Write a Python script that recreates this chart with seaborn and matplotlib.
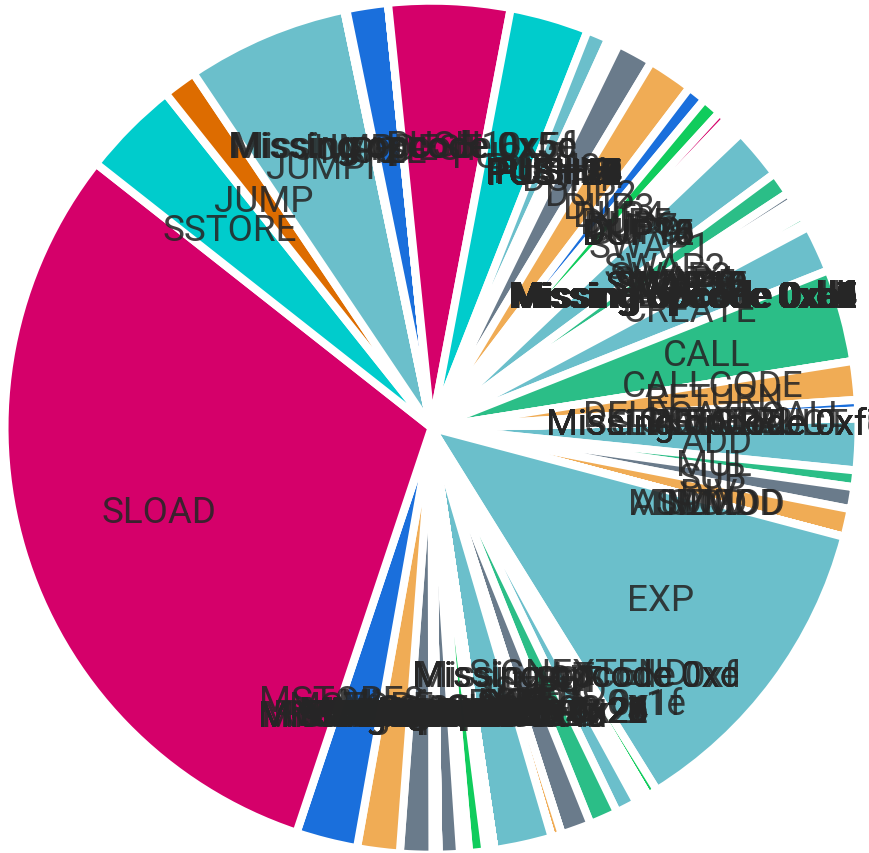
import matplotlib
matplotlib.use("Agg")
import matplotlib.pyplot as plt
import seaborn as sns

# Opcodes that consumed gas, with their share of total gas used (%)
used_opcodes = [
    "ADD", "MUL", "SUB", "DIV", "EXP", "SIGNEXTEND", "LT", "GT", "EQ", "ISZERO",
    "AND", "NOT", "SHA3", "ADDRESS", "BALANCE", "CALLER", "CALLVALUE",
    "CALLDATALOAD", "EXTCODESIZE", "TIMESTAMP", "POP", "MLOAD", "MSTORE",
    "SLOAD", "SSTORE", "JUMP", "JUMPI", "GAS", "JUMPDEST", "PUSH1", "PUSH2",
    "PUSH3", "PUSH4", "PUSH20", "PUSH32", "DUP1", "DUP2", "DUP3", "DUP4", "DUP5",
    "DUP6", "DUP7", "DUP8", "DUP9", "SWAP1", "SWAP2", "SWAP3", "SWAP4", "SWAP5",
    "LOG1", "LOG2", "LOG3", "CREATE", "CALL", "RETURN", "DELEGATECALL", "CREATE2",
]
gas_share = [
    1.96, 0.63, 0.83, 1.06, 12.03, 0.39, 0.25, 0.25, 0.81, 1.08,
    1.14, 0.39, 2.19, 0.17, 0.17, 0.61, 0.17,
    0.17, 0.81, 0.22, 1.22, 1.61, 2.33,
    30.50, 3.69, 1.28, 6.14, 0.08, 1.57, 4.60, 2.99,
    0.83, 0.22, 0.11, 0.11, 1.38, 1.72, 0.71, 0.74, 0.36,
    0.19, 0.19, 0.19, 0.18, 1.96, 0.88, 0.35, 0.22, 0.21,
    0.21, 0.32, 0.17, 1.78, 3.51, 1.46, 0.40, 0.28,
]

# EVM opcode table; bytes without an instruction are listed as missing opcodes
named_opcodes = {
    0x00: "STOP", 0x01: "ADD", 0x02: "MUL", 0x03: "SUB", 0x04: "DIV",
    0x05: "SDIV", 0x06: "MOD", 0x07: "SMOD", 0x08: "ADDMOD", 0x09: "MULMOD",
    0x0a: "EXP", 0x0b: "SIGNEXTEND",
    0x10: "LT", 0x11: "GT", 0x12: "SLT", 0x13: "SGT", 0x14: "EQ", 0x15: "ISZERO",
    0x16: "AND", 0x17: "OR", 0x18: "XOR", 0x19: "NOT", 0x1a: "BYTE",
    0x1b: "SHL", 0x1c: "SHR", 0x1d: "SAR", 0x20: "SHA3",
    0x30: "ADDRESS", 0x31: "BALANCE", 0x32: "ORIGIN", 0x33: "CALLER",
    0x34: "CALLVALUE", 0x35: "CALLDATALOAD", 0x36: "CALLDATASIZE",
    0x37: "CALLDATACOPY", 0x38: "CODESIZE", 0x39: "CODECOPY", 0x3a: "GASPRICE",
    0x3b: "EXTCODESIZE", 0x3c: "EXTCODECOPY", 0x3d: "RETURNDATASIZE",
    0x3e: "RETURNDATACOPY", 0x3f: "EXTCODEHASH",
    0x40: "BLOCKHASH", 0x41: "COINBASE", 0x42: "TIMESTAMP", 0x43: "NUMBER",
    0x44: "DIFFICULTY", 0x45: "GASLIMIT", 0x46: "CHAINID", 0x47: "SELFBALANCE",
    0x48: "BASEFEE",
    0x50: "POP", 0x51: "MLOAD", 0x52: "MSTORE", 0x53: "MSTORE8", 0x54: "SLOAD",
    0x55: "SSTORE", 0x56: "JUMP", 0x57: "JUMPI", 0x58: "PC", 0x59: "MSIZE",
    0x5a: "GAS", 0x5b: "JUMPDEST",
    0xf0: "CREATE", 0xf1: "CALL", 0xf2: "CALLCODE", 0xf3: "RETURN",
    0xf4: "DELEGATECALL", 0xf5: "CREATE2", 0xfa: "STATICCALL",
    0xfd: "REVERT", 0xfe: "INVALID", 0xff: "SELFDESTRUCT",
}
for i in range(32):
    named_opcodes[0x60 + i] = f"PUSH{i + 1}"
for i in range(16):
    named_opcodes[0x80 + i] = f"DUP{i + 1}"
    named_opcodes[0x90 + i] = f"SWAP{i + 1}"
for i in range(5):
    named_opcodes[0xa0 + i] = f"LOG{i}"

opcode_labels = [named_opcodes.get(code, f"Missing opcode {hex(code)}")
                 for code in range(256)]
share_by_name = dict(zip(used_opcodes, gas_share))
values = [share_by_name.get(name, 0.0) for name in opcode_labels]

# Slice colours
MAGENTA = "#D5006A"
CYAN = "#00CCCC"
DARK_ORANGE = "#DD6C00"
TEAL = "#6BBFCB"
BLUE = "#1A6FDC"
SLATE = "#6A7B8B"
LIGHT_ORANGE = "#F0AC55"
GREEN = "#2BBE87"
BRIGHT_GREEN = "#10CC5C"

slice_color = {
    "ADD": TEAL, "MUL": GREEN, "SUB": SLATE, "DIV": LIGHT_ORANGE, "EXP": TEAL,
    "SIGNEXTEND": BRIGHT_GREEN, "EQ": TEAL, "ISZERO": GREEN, "AND": SLATE,
    "NOT": LIGHT_ORANGE, "SHA3": TEAL, "CALLER": BRIGHT_GREEN,
    "EXTCODESIZE": SLATE, "POP": SLATE, "MLOAD": LIGHT_ORANGE, "MSTORE": BLUE,
    "SLOAD": MAGENTA, "SSTORE": CYAN, "JUMP": DARK_ORANGE, "JUMPI": TEAL,
    "JUMPDEST": BLUE, "PUSH1": MAGENTA, "PUSH2": CYAN, "PUSH3": TEAL,
    "DUP1": SLATE, "DUP2": LIGHT_ORANGE, "DUP3": BLUE, "DUP4": BRIGHT_GREEN,
    "DUP5": MAGENTA, "SWAP1": TEAL, "SWAP2": GREEN, "SWAP3": SLATE,
    "LOG2": GREEN, "CREATE": TEAL, "CALL": GREEN, "RETURN": LIGHT_ORANGE,
    "DELEGATECALL": BLUE,
}
colors = [slice_color.get(name, TEAL) for name in opcode_labels]

sns.set_theme(style="white")
plt.rcParams["font.family"] = ["Roboto", "DejaVu Sans"]

W, H = 870, 854
fig = plt.figure(figsize=(W / 100, H / 100), dpi=100)
fig.patch.set_facecolor("white")

# pie centre and outer radius in pixels
cx, cy, r = 431.5, 428.7, 427.0
ax = fig.add_axes([(cx - r) / W, (H - cy - r) / H, 2 * r / W, 2 * r / H])

wedges, texts = ax.pie(
    values,
    labels=opcode_labels,
    colors=colors,
    startangle=1.3,
    counterclock=False,
    radius=1.0,
    labeldistance=0.667,
    wedgeprops=dict(edgecolor="white", linewidth=5.8, joinstyle="round"),
    textprops=dict(fontsize=26.5, color="#262626", alpha=0.88),
)
# centre each label on its slice, nudged slightly below the mid-radius point
for t in texts:
    t.set_horizontalalignment("center")
    t.set_verticalalignment("center")
    x, y = t.get_position()
    t.set_position((x, y - 3.0 / r))

ax.set_xlim(-1, 1)
ax.set_ylim(-1, 1)
ax.set_aspect("equal")
ax.axis("off")

fig.savefig("out.png", dpi=100, facecolor="white")
